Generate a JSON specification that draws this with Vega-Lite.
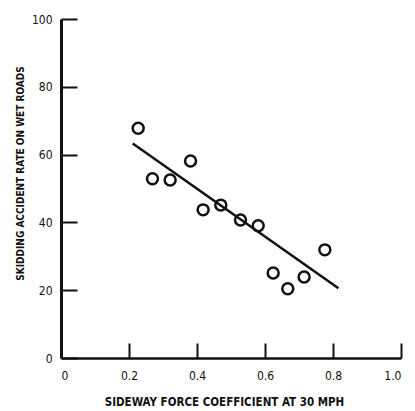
{
  "$schema": "https://vega.github.io/schema/vega-lite/v6.json",
  "width": 340,
  "height": 339,
  "autosize": "none",
  "padding": {"left": 61, "top": 19, "right": 14, "bottom": 53},
  "background": "white",
  "config": {
    "view": {"stroke": null},
    "font": "DejaVu Sans Condensed, DejaVu Sans, sans-serif",
    "axis": {
      "grid": false,
      "domainColor": "#111",
      "tickColor": "#111",
      "labelColor": "#111",
      "titleColor": "#111",
      "labelFont": "DejaVu Sans Condensed, DejaVu Sans, sans-serif",
      "labelFontSize": 12,
      "titleFont": "DejaVu Sans Condensed, DejaVu Sans, sans-serif",
      "titleFontWeight": "bold",
      "titleFontSize": 10
    }
  },
  "datasets": {
    "pts": [
      {"sfc": 0.227, "rate": 67.8},
      {"sfc": 0.269, "rate": 52.9},
      {"sfc": 0.321, "rate": 52.5},
      {"sfc": 0.381, "rate": 58.1},
      {"sfc": 0.418, "rate": 43.7},
      {"sfc": 0.470, "rate": 45.1},
      {"sfc": 0.528, "rate": 40.7},
      {"sfc": 0.580, "rate": 39.0},
      {"sfc": 0.624, "rate": 25.1},
      {"sfc": 0.667, "rate": 20.4},
      {"sfc": 0.715, "rate": 23.9},
      {"sfc": 0.776, "rate": 31.9}
    ],
    "fit": [
      {"sfc": 0.211, "rate": 63.3},
      {"sfc": 0.816, "rate": 20.6}
    ]
  },
  "layer": [
    {
      "data": {"name": "fit"},
      "mark": {"type": "line", "color": "#111", "strokeWidth": 2.5},
      "encoding": {
        "x": {
          "field": "sfc", "type": "quantitative",
          "scale": {"domain": [0, 1]},
          "axis": {
            "title": "SIDEWAY FORCE COEFFICIENT AT 30 MPH",
            "values": [0, 0.2, 0.4, 0.6, 0.8, 1.0],
            "labelExpr": "datum.value == 0 ? '0' : format(datum.value, '.1f')",
            "tickSize": -15,
            "tickWidth": 2,
            "domainWidth": 2.5,
            "labelPadding": 27,
            "titleFontSize": 11.5,
            "titleX": 163,
            "titleY": 44,
            "titleBaseline": "middle"
          }
        },
        "y": {
          "field": "rate", "type": "quantitative",
          "scale": {"domain": [0, 100]},
          "axis": {
            "title": "SKIDDING ACCIDENT RATE ON WET ROADS",
            "values": [0, 20, 40, 60, 80, 100],
            "tickSize": -16,
            "tickWidth": 2,
            "domainWidth": 3,
            "labelPadding": 25,
            "titleX": -41,
            "titleY": 154,
            "titleBaseline": "middle"
          }
        }
      }
    },
    {
      "data": {"name": "pts"},
      "mark": {"type": "point", "shape": "circle", "filled": false, "color": "#111", "strokeWidth": 2.5, "size": 120, "opacity": 1},
      "encoding": {
        "x": {"field": "sfc", "type": "quantitative"},
        "y": {"field": "rate", "type": "quantitative"}
      }
    }
  ]
}
